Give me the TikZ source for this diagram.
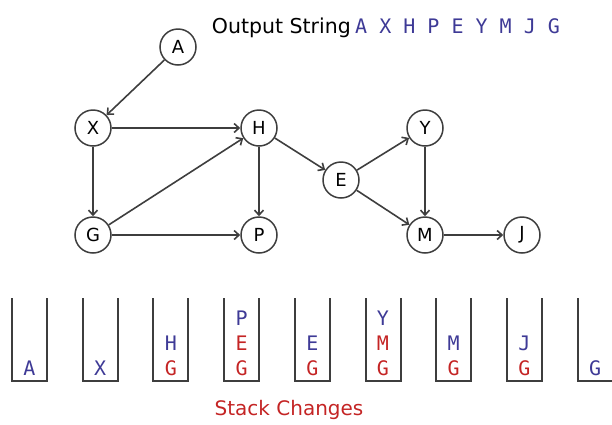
\documentclass[tikz,border=0pt]{standalone}
\usepackage{fontspec}
\setmainfont{DejaVu Sans}
\newfontfamily\stackfont{DejaVu Sans Mono}
\usepackage{tikz}
\usetikzlibrary{arrows.meta,positioning}
\definecolor{lineGray}{RGB}{62,62,62}
\definecolor{outBlue}{RGB}{62,58,150}
\definecolor{stackRed}{RGB}{196,36,36}
\tikzset{
  vertex/.style={
    circle, draw=lineGray, line width=1.5pt, minimum size=36pt,
    inner sep=0pt, font=\fontsize{18}{18}\selectfont
  },
  edgeArrow/.style={-{Straight Barb[length=5pt,width=9pt]}, line width=1.6pt, color=lineGray},
  stackLine/.style={line width=2pt, color=lineGray},
  stackItem/.style={font=\stackfont\fontsize{20}{20}\selectfont, inner sep=0pt}
}
\begin{document}
\begin{tikzpicture}[x=1pt,y=-1pt]
  \useasboundingbox (0,0) rectangle (612,424);
  % graph
  \node[vertex] (A) at (178,47) {A};
  \node[vertex] (X) at (93,128) {X};
  \node[vertex] (H) at (259,128) {H};
  \node[vertex] (Y) at (425,128) {Y};
  \node[vertex] (E) at (341,180) {E};
  \node[vertex] (G) at (93,235) {G};
  \node[vertex] (P) at (259,235) {P};
  \node[vertex] (M) at (425,235) {M};
  \node[vertex] (J) at (522,235) {J};
  \draw[edgeArrow] (A) -- (X);
  \draw[edgeArrow] (X) -- (H);
  \draw[edgeArrow] (X) -- (G);
  \draw[edgeArrow] (G) -- (H);
  \draw[edgeArrow] (G) -- (P);
  \draw[edgeArrow] (H) -- (P);
  \draw[edgeArrow] (H) -- (E);
  \draw[edgeArrow] (E) -- (Y);
  \draw[edgeArrow] (E) -- (M);
  \draw[edgeArrow] (Y) -- (M);
  \draw[edgeArrow] (M) -- (J);
  % output string
  \node[anchor=base east, inner sep=0pt, font=\fontsize{20.5}{20}\selectfont]
    (title) at (351,33) {Output String};
  \node[stackItem, text=outBlue, right=4pt of title.base east, anchor=base west]
    (order) {A X H P E Y M J G};
  % stacks
  \foreach \i in {0,...,8}
    \draw[stackLine] ({29.5+70.7*\i-17.5},298) |- ({29.5+70.7*\i+17.5},381) -- ++(0,-83);
  \foreach \i/\r/\txt/\col in {0/0/A/outBlue, 1/0/X/outBlue,
      2/1/H/outBlue, 2/0/G/stackRed,
      3/2/P/outBlue, 3/1/E/stackRed, 3/0/G/stackRed,
      4/1/E/outBlue, 4/0/G/stackRed,
      5/2/Y/outBlue, 5/1/M/stackRed, 5/0/G/stackRed,
      6/1/M/outBlue, 6/0/G/stackRed,
      7/1/J/outBlue, 7/0/G/stackRed,
      8/0/G/outBlue}
    \node[stackItem, text=\col] (s\i-\r) at ({29.5+70.7*\i},{368-25*\r}) {\txt};
  \node[font=\fontsize{20}{20}\selectfont, text=stackRed] (caption) at (289,410) {Stack Changes};
\end{tikzpicture}
\end{document}
